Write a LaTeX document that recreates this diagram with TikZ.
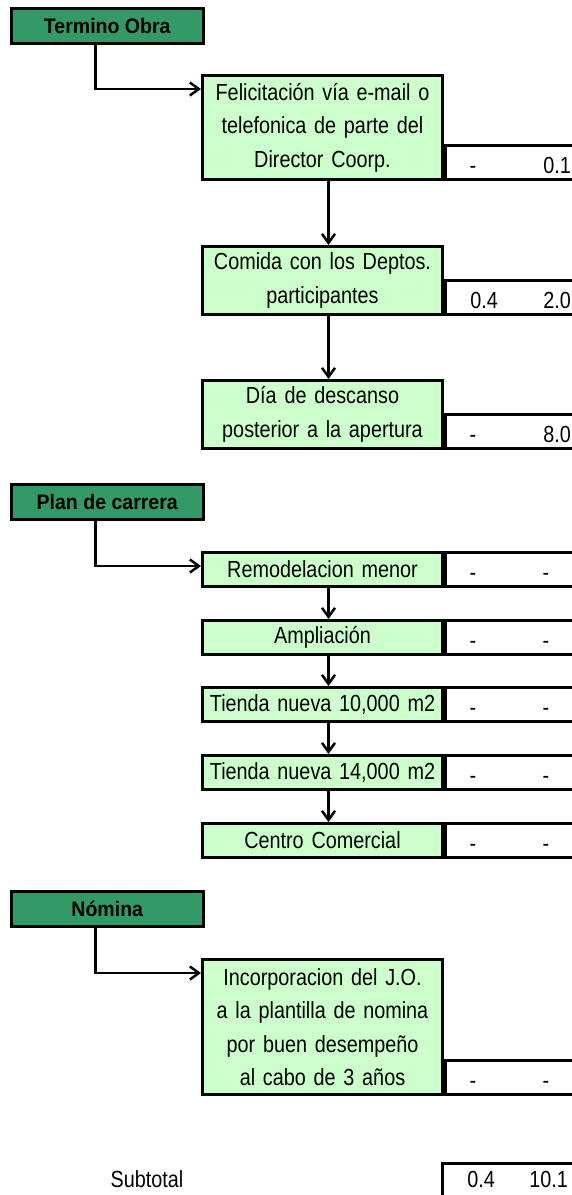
\documentclass[tikz,border=0pt]{standalone}
\usepackage{fontspec}
\setmainfont{Liberation Sans}[FakeStretch=0.85]
\newfontfamily\hdrfont{Liberation Sans}[FakeStretch=0.93]
\usetikzlibrary{arrows.meta,calc}
\definecolor{dgreen}{HTML}{339966}
\definecolor{lgreen}{HTML}{CCFFCC}
\newcommand{\bodyfont}{\fontsize{23.3}{33.5}\selectfont}
\newcommand{\headfont}{\hdrfont\bfseries\fontsize{21}{24}\selectfont}
\begin{document}
\begin{tikzpicture}[x=1pt,y=-1pt,
  txt/.style={font=\bodyfont, inner sep=0pt},
  hdr/.style={draw, line width=2.5pt, fill=dgreen, minimum width=192pt, minimum height=35pt, inner sep=0pt, anchor=north west, font=\headfont},
  gbox/.style={draw, line width=3pt, fill=lgreen, minimum width=240pt, text width=236pt, align=center, inner sep=0pt, anchor=north west, font=\bodyfont},
  tbl/.style={draw, line width=3pt, fill=white, minimum width=150pt, minimum height=34pt, inner sep=0pt, anchor=south west},
  val/.style={txt, anchor=base},
  vale/.style={txt, anchor=base east},
  conn/.style={line width=2.5pt, -{Straight Barb[length=9pt,width=13pt,line width=2.5pt]}},
]
\useasboundingbox (0,0) rectangle (571,1195);

% ---------- Termino Obra ----------
\node[hdr] (thdr) at (10,7) {Termino Obra};
\node[gbox, minimum height=104pt] (felic) at (201,74) {Felicitación vía e-mail o\\telefonica de parte del\\Director Coorp.};
\node[tbl] (tfelic) at (felic.south east) {};
\node[val] at ([xshift=29pt,yshift=8pt]tfelic.south west) {-};
\node[vale] at ([xshift=127pt,yshift=8pt]tfelic.south west) {0.1};

\node[gbox, minimum height=68pt] (comida) at (201,245) {Comida con los Deptos.\\participantes};
\node[tbl] (tcomida) at (comida.south east) {};
\node[vale] at ([xshift=54pt,yshift=8pt]tcomida.south west) {0.4};
\node[vale] at ([xshift=127pt,yshift=8pt]tcomida.south west) {2.0};

\node[gbox, minimum height=68pt] (dia) at (201,379) {Día de descanso\\posterior a la apertura};
\node[tbl] (tdia) at (dia.south east) {};
\node[val] at ([xshift=29pt,yshift=8pt]tdia.south west) {-};
\node[vale] at ([xshift=127pt,yshift=8pt]tdia.south west) {8.0};

\draw[conn] ([xshift=-12pt]thdr.south) |- ([yshift=-15pt]felic.north west);
\draw[conn] ([xshift=6pt]felic.south) -- ([xshift=6pt]comida.north);
\draw[conn] ([xshift=6pt]comida.south) -- ([xshift=6pt]dia.north);

% ---------- Plan de carrera ----------
\node[hdr] (phdr) at (10,483) {Plan de carrera};
\node[gbox, minimum height=34pt] (remod) at (201,551) {Remodelacion menor};
\node[gbox, minimum height=34pt] (ampl) at (201,619) {Ampliación};
\node[gbox, minimum height=34pt] (tten) at (201,686) {Tienda nueva 10,000 m2};
\node[gbox, minimum height=34pt] (tfour) at (201,754) {Tienda nueva 14,000 m2};
\node[gbox, minimum height=34pt] (centro) at (201,822) {Centro Comercial};
\foreach \b in {remod,ampl,tten,tfour,centro}{
  \node[tbl] (t\b) at (\b.south east) {};
  \node[val] at ([xshift=29pt,yshift=8pt]t\b.south west) {-};
  \node[val] at ([xshift=102pt,yshift=8pt]t\b.south west) {-};
}
\draw[conn] ([xshift=-12pt]phdr.south) |- ([yshift=-15pt]remod.north west);
\draw[conn] ([xshift=6pt]remod.south) -- ([xshift=6pt]ampl.north);
\draw[conn] ([xshift=6pt]ampl.south) -- ([xshift=6pt]tten.north);
\draw[conn] ([xshift=6pt]tten.south) -- ([xshift=6pt]tfour.north);
\draw[conn] ([xshift=6pt]tfour.south) -- ([xshift=6pt]centro.north);

% ---------- Nomina ----------
\node[hdr] (nhdr) at (10,890) {Nómina};
\node[gbox, minimum height=135pt] (incorp) at (201,958) {Incorporacion del J.O.\\a la plantilla de nomina\\por buen desempeño\\al cabo de 3 años};
\node[tbl] (tincorp) at (incorp.south east) {};
\node[val] at ([xshift=29pt,yshift=8pt]tincorp.south west) {-};
\node[val] at ([xshift=102pt,yshift=8pt]tincorp.south west) {-};
\draw[conn] ([xshift=-12pt]nhdr.south) |- ([yshift=-15pt]incorp.north west);

% ---------- Subtotal ----------
\node[txt, anchor=base] (sublbl) at (147,1187) {Subtotal};
\node[tbl, anchor=north west] (tsub) at (441,1162) {};
\node[vale] at ([xshift=54pt]tsub.west |- sublbl.base) {0.4};
\node[vale] at ([xshift=127pt]tsub.west |- sublbl.base) {10.1};
\end{tikzpicture}
\end{document}
